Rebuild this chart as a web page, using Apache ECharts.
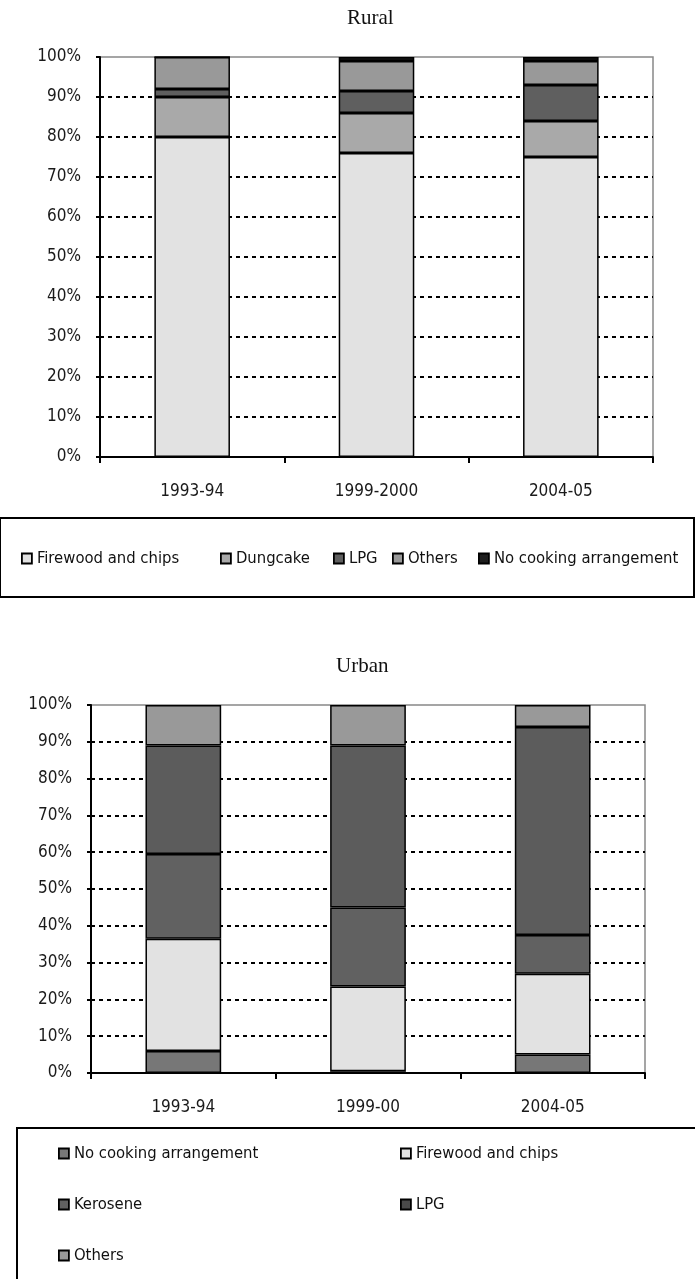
<!DOCTYPE html>
<html>
<head>
<meta charset="utf-8">
<script src="https://cdn.jsdelivr.net/npm/echarts@6/dist/echarts.min.js"></script>
<style>
  html, body { margin: 0; padding: 0; background: #fff; }
  #chart { width: 695px; height: 1279px; }
</style>
</head>
<body>
<div id="chart"></div>
<script>
// rural data (percent of households)
var ruralYears = ['1993-94', '1999-2000', '2004-05'];
var ruralFirewood = [80, 76, 75];
var ruralDungcake = [10, 10, 9];
var ruralLpg = [2, 5.5, 9];
var ruralOthers = [8, 7.5, 6];
var ruralNoCooking = [0, 1, 1];

// urban data
var urbanYears = ['1993-94', '1999-00', '2004-05'];
var urbanNoCooking = [6, 0.5, 5];
var urbanFirewood = [30.5, 23, 22];
var urbanKerosene = [23, 21.5, 10.5];
var urbanLpg = [29.5, 44, 56.5];
var urbanOthers = [11, 11, 6];

var yTicks = [0, 10, 20, 30, 40, 50, 60, 70, 80, 90, 100];

var FONT = '"DejaVu Sans Condensed", "DejaVu Sans", sans-serif';

var chart = echarts.init(document.getElementById('chart'));

function bar(name, data, color, idx) {
    return {
        name: name,
        type: 'bar',
        stack: 's' + idx,
        xAxisIndex: idx,
        yAxisIndex: idx,
        barWidth: '41%',
        data: data,
        itemStyle: { color: color, borderColor: '#000', borderWidth: 1.5 }
    };
}

function xAxis(idx, cats) {
    return {
        type: 'category',
        gridIndex: idx,
        data: cats,
        boundaryGap: true,
        axisLine: { lineStyle: { color: '#000', width: 2 } },
        axisTick: { show: true, length: 6, lineStyle: { color: '#000', width: 2 } },
        axisLabel: { color: '#1a1a1a', fontSize: 17, fontFamily: FONT, margin: 26 }
    };
}

function yAxis(idx) {
    return {
        type: 'value',
        gridIndex: idx,
        min: yTicks[0],
        max: yTicks[yTicks.length - 1],
        interval: 10,
        axisLine: { show: true, lineStyle: { color: '#000', width: 2 } },
        axisTick: { show: true, length: 4, lineStyle: { color: '#000', width: 2 } },
        axisLabel: {
            color: '#1a1a1a', fontSize: 17, fontFamily: FONT, margin: 19,
            padding: [4, 0, 0, 0], formatter: '{value}%'
        },
        splitLine: {
            show: true, showMinLine: false, showMaxLine: false,
            lineStyle: { color: '#000', width: 2, type: [4, 4] }
        }
    };
}

function legendItem(name, color, left, top) {
    return {
        left: left, top: top,
        orient: 'vertical',
        icon: 'rect', itemWidth: 10, itemHeight: 10,
        itemGap: 34,
        textStyle: { color: '#111', fontSize: 16.5, fontFamily: FONT },
        data: [].concat(name).map(function (n, i) {
            return { name: n, itemStyle: { color: [].concat(color)[i], borderColor: '#000', borderWidth: 1.8 } };
        })
    };
}

var titleStyle = { fontFamily: 'Liberation Serif', fontWeight: 'normal', fontSize: 21, color: '#111' };

var option = {
    animation: false,
    backgroundColor: '#fff',
    title: [
        { text: 'Rural', left: 342, top: 3, textStyle: titleStyle },
        { text: 'Urban', left: 331, top: 651, textStyle: titleStyle }
    ],
    grid: [
        { left: 100, right: 42, top: 57, height: 400, show: true, borderColor: '#888', borderWidth: 1.5 },
        { left: 91, right: 50, top: 705, height: 368, show: true, borderColor: '#888', borderWidth: 1.5 }
    ],
    xAxis: [xAxis(0, ruralYears), xAxis(1, urbanYears)],
    yAxis: [yAxis(0), yAxis(1)],
    legend: [
        legendItem('Firewood and chips', '#e2e2e2', 16, 545),
        legendItem('Dungcake', '#a9a9a9', 215, 545),
        legendItem('LPG', '#5f5f5f', 328, 545),
        legendItem('Others', '#999999', 387, 545),
        legendItem('No cooking arrangement', '#1e1e1e', 473, 545),
        legendItem(['No cooking arrangement', 'Kerosene', 'Others'], ['#777777', '#616161', '#999999'], 53, 1140),
        legendItem(['Firewood and chips', 'LPG'], ['#e2e2e2', '#4a4a4a'], 395, 1140)
    ],
    graphic: [
        { type: 'rect', shape: { x: 0, y: 518, width: 694, height: 79 }, style: { fill: 'none', stroke: '#000', lineWidth: 2 } },
        { type: 'rect', shape: { x: 17, y: 1128, width: 690, height: 170 }, style: { fill: 'none', stroke: '#000', lineWidth: 2 } }
    ],
    series: [
        bar('Firewood and chips', ruralFirewood, '#e2e2e2', 0),
        bar('Dungcake', ruralDungcake, '#a9a9a9', 0),
        bar('LPG', ruralLpg, '#5f5f5f', 0),
        bar('Others', ruralOthers, '#999999', 0),
        bar('No cooking arrangement', ruralNoCooking, '#1e1e1e', 0),
        bar('No cooking arrangement', urbanNoCooking, '#777777', 1),
        bar('Firewood and chips', urbanFirewood, '#e2e2e2', 1),
        bar('Kerosene', urbanKerosene, '#616161', 1),
        bar('LPG', urbanLpg, '#5c5c5c', 1),
        bar('Others', urbanOthers, '#999999', 1)
    ]
};

chart.setOption(option);
</script>
</body>
</html>
